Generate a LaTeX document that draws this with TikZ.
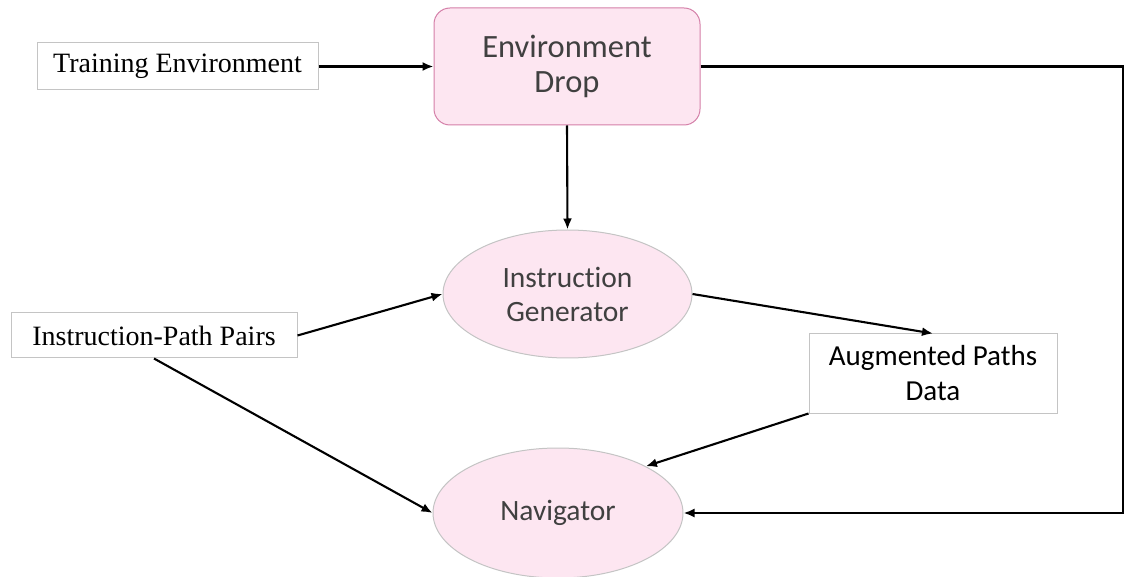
\documentclass[tikz,border=0pt]{standalone}
\usepackage{fontspec}
\setmainfont{Liberation Serif}
\newfontfamily\calib[Ligatures=NoCommon]{Carlito}
\usetikzlibrary{shapes.geometric,arrows.meta}
\definecolor{pinkfill}{HTML}{FDE6F1}
\definecolor{pinkedge}{HTML}{D47FA8}
\definecolor{boxedge}{HTML}{C4C4C4}
\definecolor{softtext}{HTML}{404040}
\tikzset{
  plainbox/.style={draw=boxedge, line width=1pt, fill=white, inner sep=0pt,
    font=\fontsize{28}{33}\selectfont, text=black},
  dropbox/.style={draw=pinkedge, line width=1pt, fill=pinkfill, rounded corners=16pt,
    inner sep=0pt, align=center, font=\calib\fontsize{32.5}{35.5}\selectfont, text=softtext},
  blob/.style={ellipse, draw=boxedge, line width=1pt, fill=pinkfill, inner sep=0pt,
    align=center, font=\calib\fontsize{29.5}{34}\selectfont, text=softtext},
  databox/.style={draw=boxedge, line width=1pt, fill=white, inner sep=0pt,
    align=center, font=\calib\fontsize{29}{35}\selectfont, text=black},
  flow/.style={line width=2.1pt, -{Latex[length=11pt,width=9pt]}}
}
\begin{document}
\begin{tikzpicture}[x=1pt,y=-1pt]
  \useasboundingbox (0,0) rectangle (1125,577);
  % nodes
  \node[plainbox, minimum width=281pt, minimum height=47pt] (train) at (177.5,66.5) {Training Environment};
  \node[dropbox, minimum width=266pt, minimum height=117pt] (drop) at (567,66.5) {Environment\\Drop};
  \node[blob, minimum width=249pt, minimum height=128pt] (gen) at (567.5,294) {Instruction\\Generator};
  \node[plainbox, minimum width=286pt, minimum height=45pt] (pairs) at (154,335.5) {Instruction-Path Pairs};
  \node[databox, minimum width=248pt, minimum height=79pt] (aug) at (933,373.5) {Augmented Paths\\Data};
  \node[blob, minimum width=250pt, minimum height=130pt] (nav) at (558,513) {Navigator};
  \coordinate (turn) at (1123,66.5);
  % connectors
  \draw[flow] (train.east) -- (drop.west);
  \draw[flow] (drop.south) -- (gen.north);
  \draw[flow] (drop.east) -- (turn) |- (nav.east);
  \draw[flow] (pairs.east) -- (gen.west);
  \draw[flow] (gen.east) -- (aug.north);
  \draw[flow] (pairs.south) -- (nav.west);
  \draw[flow] (aug.south west) -- (nav.28);
\end{tikzpicture}
\end{document}
